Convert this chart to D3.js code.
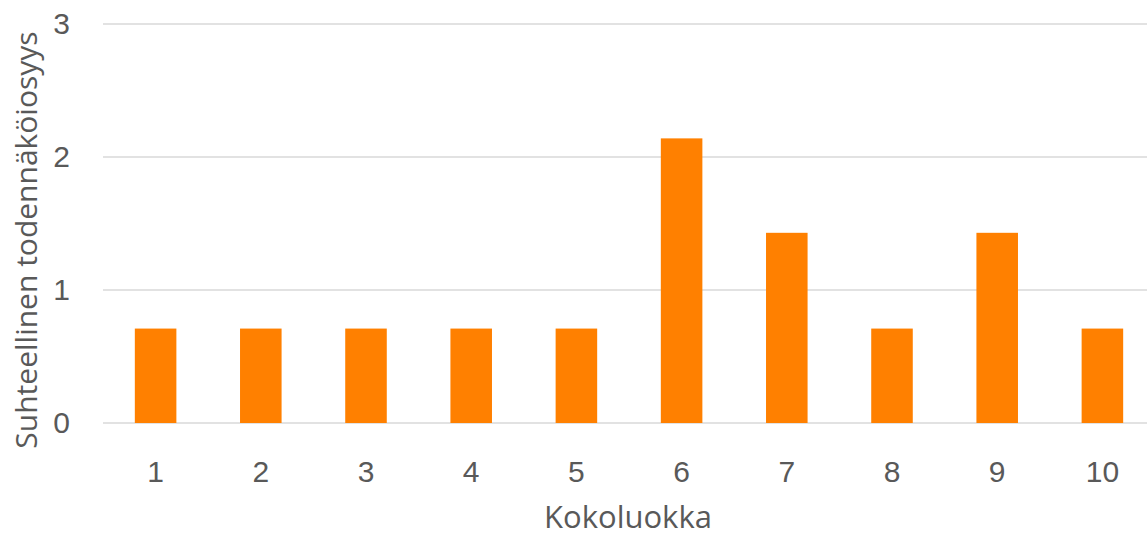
<!DOCTYPE html>
<html>
<head>
<meta charset="utf-8">
<script src="https://cdn.jsdelivr.net/npm/d3@7"></script>
<style>
  body { margin: 0; background: #fff; }
  svg { display: block; font-family: 'Open Sans', 'Noto Sans', sans-serif; }
</style>
</head>
<body>
<svg id="chart"></svg>
<script>
const categories = ['1', '2', '3', '4', '5', '6', '7', '8', '9', '10'];
const values = [0.71, 0.71, 0.71, 0.71, 0.71, 2.14, 1.43, 0.71, 1.43, 0.71];
const yTicks = [0, 1, 2, 3];
const xTitle = 'Kokoluokka';
const yTitle = 'Suhteellinen todennäköiosyys';

const W = 1147, H = 536;
const margin = { top: 24, right: -8, bottom: 113, left: 103 };
const width = W - margin.left - margin.right;
const height = H - margin.top - margin.bottom;

const svg = d3.select('#chart')
  .attr('width', W)
  .attr('height', H);

const g = svg.append('g')
  .attr('transform', `translate(${margin.left},${margin.top})`);

const x = d3.scaleBand()
  .domain(categories)
  .range([0, width])
  .paddingInner(0.605)
  .paddingOuter(0.3025);

const y = d3.scaleLinear()
  .domain([0, 3])
  .range([height, 0]);

// gridlines
g.selectAll('.grid')
  .data(yTicks)
  .enter()
  .append('line')
  .attr('class', 'grid')
  .attr('x1', 0)
  .attr('x2', width)
  .attr('y1', d => y(d))
  .attr('y2', d => y(d))
  .attr('stroke', '#d9d9d9')
  .attr('stroke-width', 1.5);

// y axis labels
const yAxis = g.append('g')
  .call(d3.axisLeft(y).tickValues(yTicks).tickFormat(d3.format('d')).tickSize(0).tickPadding(33));
yAxis.select('.domain').remove();
yAxis.selectAll('text')
  .attr('fill', '#595959')
  .style('font-size', '30px');

// bars
g.selectAll('.bar')
  .data(values)
  .enter()
  .append('rect')
  .attr('class', 'bar')
  .attr('x', (d, i) => x(categories[i]))
  .attr('y', d => y(d))
  .attr('width', x.bandwidth())
  .attr('height', d => height - y(d))
  .attr('fill', '#ff8000');

// x axis labels
const xAxis = g.append('g')
  .attr('transform', `translate(0,${height})`)
  .call(d3.axisBottom(x).tickSize(0).tickPadding(38));
xAxis.select('.domain').remove();
xAxis.selectAll('text')
  .attr('fill', '#595959')
  .style('font-size', '30px');

// axis titles
svg.append('text')
  .attr('x', 628)
  .attr('y', 528)
  .attr('text-anchor', 'middle')
  .attr('fill', '#595959')
  .style('font-size', '31px')
  .text(xTitle);

svg.append('text')
  .attr('transform', 'translate(37,240) rotate(-90)')
  .attr('text-anchor', 'middle')
  .attr('fill', '#595959')
  .style('font-size', '30px')
  .text(yTitle);
</script>
</body>
</html>
